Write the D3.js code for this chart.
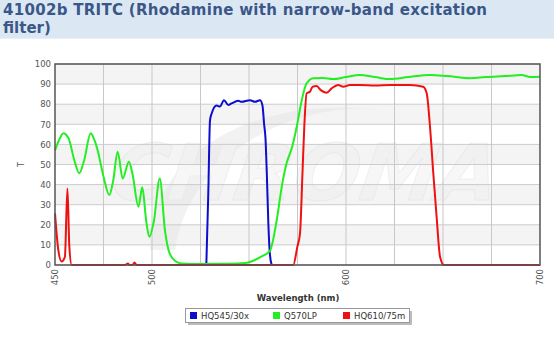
<!DOCTYPE html>
<html>
<head>
<meta charset="utf-8">
<script src="https://cdn.jsdelivr.net/npm/d3@7"></script>
<style>
body { margin: 0; background: #fff; }
svg { display: block; }
</style>
</head>
<body>
<div class="visHolder"></div>
<script>
const w = 554;
const h = 350;
const m = { left: 55, right: 14, top: 64, bottom: 85 };

// data
const blueWl = [528, 529, 529.9, 530.8, 533.3, 535, 537.1, 539.3, 541, 544.5, 546.2, 550.5, 553.1, 555.7, 556.9, 557.8, 558.5, 559.2, 560, 560.8, 561.7];
const blueT = [0, 35, 72, 75.5, 79.3, 78.8, 82, 79.6, 80.4, 81.7, 81.2, 82, 81.2, 82, 79.6, 70, 63, 45, 20, 5, 0];

const greenWl = [450, 452, 454.3, 457, 460, 462.5, 465, 468.4, 470, 472, 475, 478, 480, 482.3, 484.9, 488.1, 490, 493, 495, 497, 498.6, 501, 504, 506.7, 509, 512, 515, 525, 540, 548, 553, 557, 560.8, 564.3, 566.9, 569.4, 572.3, 574.6, 577.2, 579.7, 583.2, 588, 593.3, 600, 607, 615, 622.7, 632, 643.3, 652, 664, 672, 682, 690.5, 695, 700];
const greenT = [57, 62, 65.6, 63, 52, 45.7, 52, 65.6, 63, 57, 44, 34.8, 42, 56.4, 43, 51.4, 45, 29, 38.7, 22, 14, 22, 43, 17, 6, 2, 0.8, 0.5, 0.6, 1, 2.5, 4.5, 7, 22.4, 39, 50.7, 58.9, 68.8, 82, 90.4, 92.9, 93, 92.5, 93.5, 94.5, 93.5, 92.5, 93.5, 94.5, 94, 92.9, 93.5, 94, 94.5, 93.5, 93.7];

const redWl = [450, 451.7, 453.4, 455.1, 456.4, 457.4, 458.6, 486, 487.6, 488.5, 490, 491, 492, 572.8, 574.9, 576.3, 577.5, 578.5, 579.7, 581.4, 582.8, 584.9, 587, 590, 592.6, 596, 598.6, 602, 607, 615, 622.7, 633, 639.8, 641.6, 643.3, 645, 646.7, 648.5, 650.5, 700];
const redT = [25.7, 7.5, 1.7, 4, 38, 9, 0, 0, 0.7, 0, 0, 1.2, 0, 0, 9, 15.8, 44, 68.8, 85.4, 86.2, 88.7, 89, 87, 85.7, 87.9, 89.6, 88.7, 89.6, 89.6, 89.3, 89.6, 89.6, 88.7, 85.4, 68.8, 45.6, 24, 4, 0, 0];

const seriesNames = ['HQ545/30x', 'Q570LP', 'HQ610/75m'];
const seriesColors = ['#0d0dcc', '#22ee22', '#ee1111'];
const xTicks = [450, 500, 600, 700];
const yTicks = [0, 10, 20, 30, 40, 50, 60, 70, 80, 90, 100];
const xGrid = [475, 500, 525, 550, 575, 600, 625, 650, 675];

const svg = d3.select('.visHolder').append('svg').attr('width', w).attr('height', h);

// title band
svg.append('rect').attr('x', 0).attr('y', 0).attr('width', w).attr('height', 38).attr('fill', '#dbe8f4');
svg.append('line').attr('x1', 0).attr('x2', w).attr('y1', 38.5).attr('y2', 38.5).attr('stroke', '#e8f0f8');
const titleLines = ['41002b TRITC (Rhodamine with narrow-band excitation', 'filter)'];
svg.selectAll('.title').data(titleLines).enter().append('text')
  .attr('class', 'title')
  .attr('x', 3).attr('y', (d, i) => 15 + i * 18)
  .style('font-family', 'DejaVu Sans, Verdana, sans-serif').style('font-weight', 'bold')
  .style('font-size', '15px').attr('fill', '#3b5788')
  .text(d => d);
svg.select('.title').attr('textLength', 484).attr('lengthAdjust', 'spacing');

const pw = w - m.left - m.right;
const ph = h - m.top - m.bottom;

const xScale = d3.scaleLinear().domain([450, 700]).range([m.left, m.left + pw]);
const yScale = d3.scaleLinear().domain([0, 100]).range([m.top + ph, m.top]);

// stripes
const stripes = [10, 30, 50, 70, 90];
svg.selectAll('.stripe').data(stripes).enter().append('rect')
  .attr('class', 'stripe')
  .attr('x', m.left).attr('width', pw)
  .attr('y', d => yScale(d + 10)).attr('height', d => yScale(d) - yScale(d + 10))
  .attr('fill', '#f4f4f4');

// watermark
const wm = svg.append('g').attr('opacity', 0.5);
wm.append('path')
  .attr('d', 'M150,250 C150,150 260,95 380,110 C300,100 190,150 175,250 Z')
  .attr('fill', '#e6e6e6');
wm.append('text').attr('x', 300).attr('y', 200).attr('text-anchor', 'middle')
  .style('font-family', 'DejaVu Sans, sans-serif').style('font-weight', 'bold').style('font-style', 'italic')
  .style('font-size', '78px').attr('fill', '#f0f0f0').attr('stroke', '#e0e0e0').attr('stroke-width', 1)
  .attr('transform', 'skewX(-8) translate(30,0)')
  .text('CHROMA');

// grid
svg.selectAll('.hgrid').data(yTicks).enter().append('line')
  .attr('x1', m.left).attr('x2', m.left + pw)
  .attr('y1', d => yScale(d)).attr('y2', d => yScale(d))
  .attr('stroke', '#cccccc').attr('stroke-width', 1);
svg.selectAll('.vgrid').data(xGrid).enter().append('line')
  .attr('x1', d => xScale(d)).attr('x2', d => xScale(d))
  .attr('y1', m.top).attr('y2', m.top + ph)
  .attr('stroke', '#c8c8c8').attr('stroke-width', 1);

// lines
const series = [
  { wl: blueWl, t: blueT },
  { wl: greenWl, t: greenT },
  { wl: redWl, t: redT }
];
const line = d3.line().x(d => xScale(d[0])).y(d => yScale(d[1])).curve(d3.curveMonotoneX);
series.forEach((s, i) => {
  svg.append('path')
    .datum(s.wl.map((v, j) => [v, s.t[j]]))
    .attr('d', line)
    .attr('fill', 'none')
    .attr('stroke', seriesColors[i])
    .attr('stroke-width', 2)
    .attr('stroke-linejoin', 'round');
});

// frame
svg.append('rect').attr('x', m.left).attr('y', m.top).attr('width', pw).attr('height', ph)
  .attr('fill', 'none').attr('stroke', '#555').attr('stroke-width', 1.5);

// axes
const axisLeft = d3.axisLeft(yScale).tickValues(yTicks).tickSize(0).tickPadding(4);
const gy = svg.append('g').attr('transform', 'translate(' + m.left + ',0)').call(axisLeft);
gy.select('.domain').remove();
gy.selectAll('text').style('font-family', 'Verdana, DejaVu Sans, sans-serif').style('font-size', '8.5px').attr('fill', '#555');

const axisBottom = d3.axisBottom(xScale).tickValues(xTicks).tickSize(0).tickPadding(3);
const gx = svg.append('g').attr('transform', 'translate(0,' + (m.top + ph) + ')').call(axisBottom);
gx.select('.domain').remove();
gx.selectAll('text')
  .style('font-family', 'Verdana, DejaVu Sans, sans-serif').style('font-size', '8.5px').attr('fill', '#555')
  .attr('text-anchor', 'end').attr('dy', '0.35em')
  .attr('transform', 'translate(0,4) rotate(-90)').attr('y', 0).attr('x', 0);

// axis titles
svg.append('text').attr('transform', 'translate(24,' + (m.top + ph / 2) + ') rotate(-90)')
  .attr('text-anchor', 'middle')
  .style('font-family', 'Verdana, DejaVu Sans, sans-serif').style('font-size', '8px').attr('fill', '#555')
  .text('T');
svg.append('text').attr('x', 298).attr('y', 301).attr('text-anchor', 'middle')
  .style('font-family', 'Verdana, DejaVu Sans, sans-serif').style('font-weight', 'bold').style('font-size', '8.5px').attr('fill', '#333')
  .text('Wavelength (nm)');

// legend
svg.append('rect').attr('x', 188).attr('y', 311).attr('width', 224).attr('height', 14).attr('fill', '#bbb');
svg.append('rect').attr('x', 185.5).attr('y', 308.5).attr('width', 224).attr('height', 14)
  .attr('fill', '#fff').attr('stroke', '#999').attr('stroke-width', 1);
const legX = [190, 273, 343];
const lg = svg.selectAll('.leg').data(seriesNames).enter().append('g')
  .attr('transform', (d, i) => 'translate(' + legX[i] + ',312)');
lg.append('rect').attr('width', 7).attr('height', 7).attr('fill', (d, i) => seriesColors[i]);
lg.append('text').attr('x', 11).attr('y', 7)
  .style('font-family', 'Verdana, DejaVu Sans, sans-serif').style('font-size', '8.5px').attr('fill', '#333')
  .text(d => d);
</script>
</body>
</html>
